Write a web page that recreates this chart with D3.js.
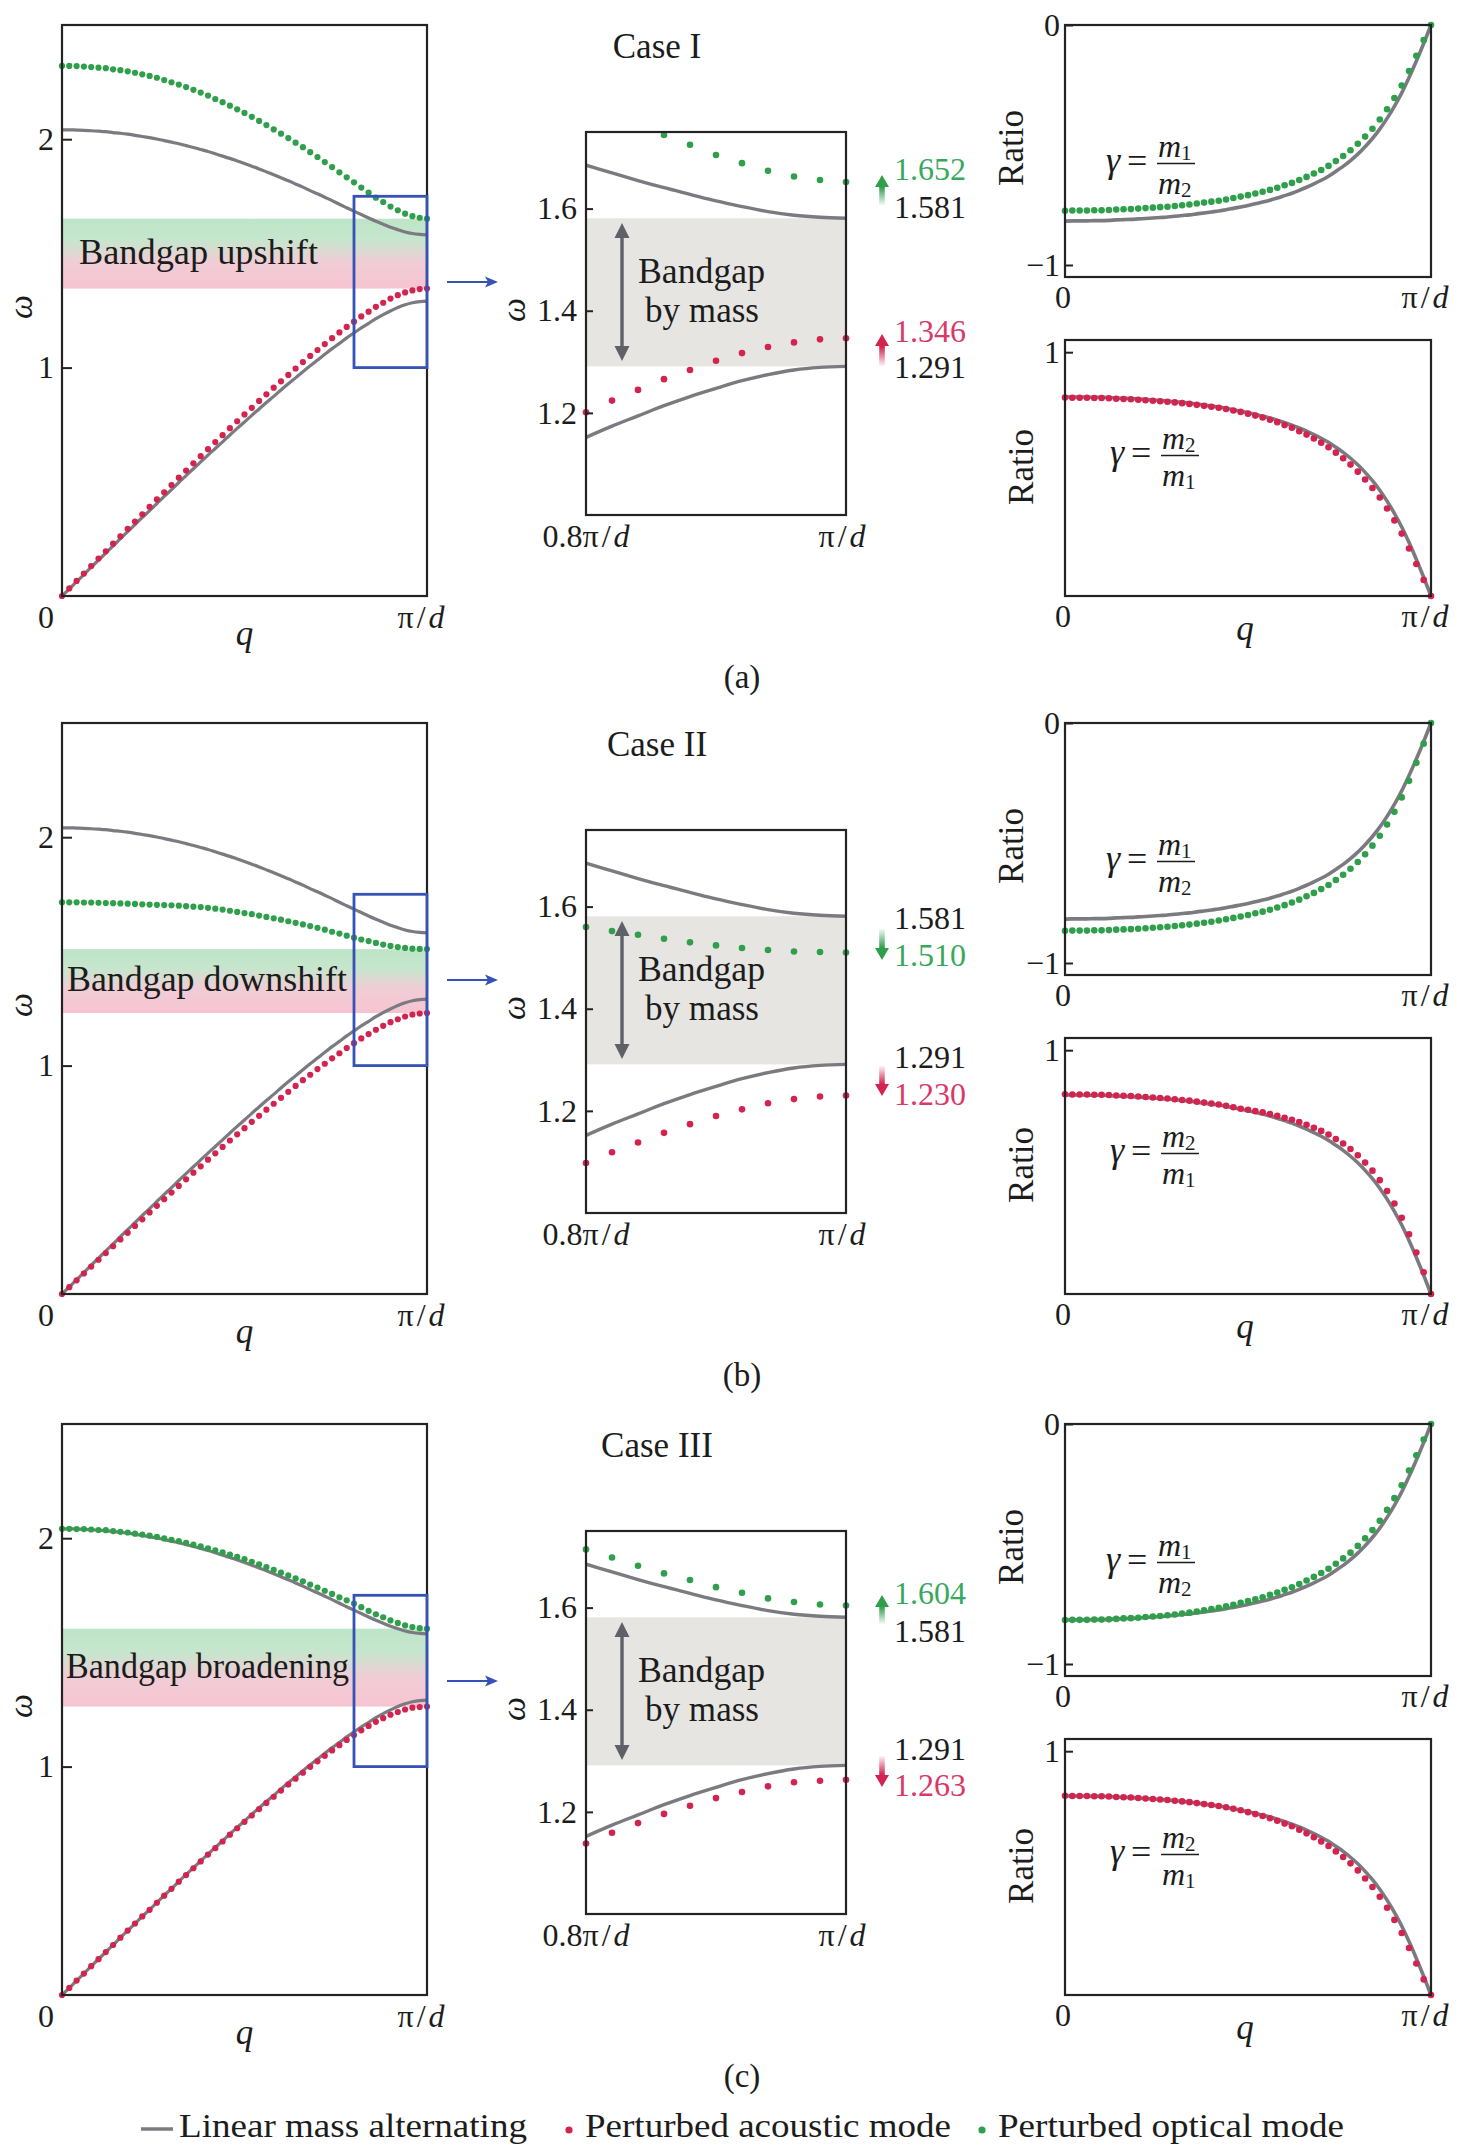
<!DOCTYPE html>
<html>
<head>
<meta charset="utf-8">
<script src="https://cdn.jsdelivr.net/npm/d3@7"></script>
<style>
  body { margin: 0; background: #fff; }
  svg text { font-family: "Liberation Serif", "Times New Roman", serif; fill: #1c1c1c; }
</style>
</head>
<body>
<svg id="fig" width="1462" height="2150"></svg>
<script>
// wave number, in units of pi/d
const qGrid = [0.00,0.02,0.04,0.06,0.08,0.10,0.12,0.14,0.16,0.18,
  0.20,0.22,0.24,0.26,0.28,0.30,0.32,0.34,0.36,0.38,
  0.40,0.42,0.44,0.46,0.48,0.50,0.52,0.54,0.56,0.58,
  0.60,0.62,0.64,0.66,0.68,0.70,0.72,0.74,0.76,0.78,
  0.80,0.82,0.84,0.86,0.88,0.90,0.92,0.94,0.96,0.98,1.00];

// linear mass alternating (grey curves), same in every case
const baseOptical = [2.041,2.041,2.040,2.039,2.037,2.035,2.033,2.029,2.026,2.022,
  2.017,2.012,2.007,2.001,1.994,1.987,1.980,1.972,1.964,1.955,
  1.946,1.936,1.926,1.916,1.905,1.894,1.882,1.870,1.857,1.844,
  1.831,1.818,1.804,1.790,1.775,1.761,1.746,1.731,1.715,1.700,
  1.685,1.670,1.655,1.641,1.628,1.615,1.604,1.594,1.587,1.583,1.581];
const baseAcoustic = [0.000,0.031,0.063,0.094,0.126,0.157,0.188,0.219,0.251,0.282,
  0.313,0.344,0.374,0.405,0.436,0.466,0.497,0.527,0.557,0.587,
  0.617,0.646,0.675,0.705,0.734,0.762,0.791,0.819,0.847,0.874,
  0.902,0.929,0.955,0.982,1.008,1.033,1.058,1.083,1.106,1.130,
  1.152,1.174,1.194,1.214,1.232,1.248,1.263,1.275,1.284,1.289,1.291];
const baseRatioOptical = [-0.817,-0.816,-0.816,-0.816,-0.815,-0.815,-0.814,-0.812,-0.811,-0.810,
  -0.808,-0.806,-0.804,-0.802,-0.800,-0.797,-0.794,-0.791,-0.787,-0.783,
  -0.779,-0.775,-0.770,-0.764,-0.758,-0.752,-0.745,-0.738,-0.730,-0.721,
  -0.711,-0.701,-0.689,-0.676,-0.662,-0.647,-0.630,-0.610,-0.589,-0.565,
  -0.538,-0.507,-0.473,-0.434,-0.389,-0.339,-0.283,-0.219,-0.150,-0.077,0];
const baseRatioAcoustic = [0.817,0.816,0.816,0.816,0.815,0.815,0.814,0.812,0.811,0.810,
  0.808,0.806,0.804,0.802,0.800,0.797,0.794,0.791,0.787,0.783,
  0.779,0.775,0.770,0.764,0.758,0.752,0.745,0.738,0.730,0.721,
  0.711,0.701,0.689,0.676,0.662,0.647,0.630,0.610,0.589,0.565,
  0.538,0.507,0.473,0.434,0.389,0.339,0.283,0.219,0.150,0.077,0];

// Case I
const case1Optical = [2.321,2.321,2.320,2.318,2.316,2.313,2.311,2.306,2.302,2.297,
  2.291,2.284,2.277,2.269,2.259,2.249,2.239,2.228,2.216,2.204,
  2.191,2.176,2.162,2.147,2.131,2.115,2.098,2.080,2.062,2.043,
  2.024,2.005,1.985,1.965,1.943,1.922,1.900,1.878,1.855,1.833,
  1.811,1.788,1.766,1.744,1.725,1.705,1.689,1.674,1.663,1.656,1.652];
const case1Acoustic = [0.000,0.033,0.066,0.098,0.131,0.164,0.196,0.229,0.261,0.294,
  0.326,0.358,0.390,0.423,0.454,0.486,0.518,0.549,0.581,0.612,
  0.643,0.674,0.704,0.735,0.765,0.795,0.824,0.854,0.883,0.912,
  0.940,0.968,0.996,1.024,1.051,1.077,1.103,1.129,1.154,1.178,
  1.201,1.224,1.245,1.266,1.284,1.302,1.317,1.329,1.338,1.344,1.346];
const case1RatioOptical = [-0.774,-0.773,-0.773,-0.773,-0.772,-0.772,-0.771,-0.769,-0.768,-0.767,
  -0.765,-0.763,-0.761,-0.759,-0.757,-0.754,-0.751,-0.748,-0.744,-0.740,
  -0.736,-0.732,-0.727,-0.721,-0.715,-0.709,-0.702,-0.695,-0.687,-0.678,
  -0.668,-0.658,-0.646,-0.633,-0.619,-0.604,-0.587,-0.567,-0.546,-0.522,
  -0.495,-0.465,-0.432,-0.394,-0.351,-0.304,-0.252,-0.192,-0.128,-0.063,0];
const case1RatioAcoustic = [0.814,0.813,0.813,0.813,0.812,0.812,0.811,0.809,0.808,0.807,
  0.805,0.803,0.801,0.799,0.797,0.794,0.791,0.788,0.784,0.780,
  0.776,0.772,0.767,0.761,0.755,0.748,0.740,0.732,0.723,0.713,
  0.701,0.690,0.676,0.662,0.646,0.629,0.610,0.588,0.565,0.539,
  0.510,0.478,0.443,0.404,0.359,0.310,0.256,0.195,0.131,0.066,0];

// Case II
const case2Optical = [1.715,1.715,1.715,1.714,1.714,1.713,1.712,1.711,1.710,1.709,
  1.708,1.706,1.705,1.704,1.703,1.702,1.700,1.698,1.696,1.694,
  1.691,1.687,1.683,1.678,1.673,1.668,1.663,1.657,1.651,1.645,
  1.639,1.632,1.625,1.618,1.611,1.603,1.595,1.586,1.578,1.569,
  1.560,1.552,1.545,1.537,1.530,1.524,1.519,1.515,1.512,1.511,1.510];
const case2Acoustic = [0.000,0.030,0.060,0.090,0.120,0.150,0.179,0.209,0.239,0.268,
  0.298,0.327,0.357,0.386,0.415,0.444,0.473,0.502,0.531,0.559,
  0.588,0.616,0.644,0.672,0.699,0.726,0.754,0.780,0.807,0.833,
  0.859,0.885,0.911,0.936,0.960,0.985,1.008,1.032,1.054,1.077,
  1.098,1.119,1.138,1.157,1.174,1.190,1.203,1.215,1.223,1.228,1.230];
const case2RatioOptical = [-0.866,-0.865,-0.865,-0.865,-0.864,-0.864,-0.863,-0.861,-0.860,-0.859,
  -0.857,-0.855,-0.853,-0.851,-0.849,-0.846,-0.843,-0.840,-0.836,-0.832,
  -0.828,-0.823,-0.818,-0.812,-0.806,-0.800,-0.793,-0.786,-0.778,-0.769,
  -0.759,-0.748,-0.736,-0.722,-0.708,-0.692,-0.675,-0.654,-0.632,-0.607,
  -0.579,-0.547,-0.511,-0.470,-0.423,-0.370,-0.310,-0.241,-0.166,-0.086,0];
const case2RatioAcoustic = [0.819,0.818,0.818,0.818,0.817,0.817,0.816,0.814,0.813,0.812,
  0.810,0.808,0.806,0.804,0.802,0.799,0.796,0.793,0.789,0.785,
  0.781,0.777,0.772,0.766,0.760,0.756,0.750,0.745,0.738,0.731,
  0.723,0.715,0.705,0.694,0.682,0.669,0.654,0.636,0.617,0.595,
  0.569,0.539,0.506,0.467,0.422,0.371,0.313,0.245,0.170,0.089,0];

// Case III
const case3Optical = [2.041,2.041,2.040,2.040,2.038,2.036,2.035,2.031,2.028,2.025,
  2.020,2.016,2.011,2.006,1.999,1.993,1.987,1.980,1.972,1.964,
  1.956,1.947,1.938,1.928,1.918,1.908,1.897,1.886,1.873,1.861,
  1.849,1.837,1.824,1.811,1.797,1.784,1.770,1.756,1.741,1.728,
  1.714,1.698,1.682,1.667,1.654,1.640,1.629,1.618,1.611,1.606,1.604];
const case3Acoustic = [0.000,0.031,0.063,0.094,0.126,0.157,0.188,0.219,0.251,0.282,
  0.313,0.344,0.373,0.404,0.435,0.465,0.496,0.525,0.555,0.585,
  0.615,0.643,0.672,0.702,0.730,0.758,0.786,0.814,0.841,0.868,
  0.895,0.922,0.947,0.973,0.999,1.023,1.047,1.071,1.094,1.117,
  1.138,1.159,1.178,1.196,1.212,1.227,1.239,1.250,1.258,1.261,1.263];
const case3RatioOptical = [-0.817,-0.816,-0.816,-0.816,-0.815,-0.815,-0.814,-0.812,-0.810,-0.809,
  -0.807,-0.804,-0.802,-0.800,-0.797,-0.794,-0.790,-0.786,-0.781,-0.776,
  -0.771,-0.766,-0.760,-0.753,-0.745,-0.738,-0.730,-0.722,-0.712,-0.702,
  -0.691,-0.680,-0.667,-0.652,-0.637,-0.621,-0.603,-0.582,-0.560,-0.536,
  -0.508,-0.476,-0.442,-0.403,-0.358,-0.309,-0.255,-0.194,-0.130,-0.065,0];
const case3RatioAcoustic = [0.817,0.816,0.816,0.816,0.815,0.815,0.814,0.812,0.811,0.810,
  0.808,0.806,0.804,0.802,0.800,0.797,0.794,0.791,0.787,0.783,
  0.779,0.775,0.770,0.764,0.758,0.750,0.742,0.734,0.725,0.715,
  0.703,0.692,0.678,0.663,0.647,0.630,0.611,0.589,0.566,0.540,
  0.511,0.478,0.443,0.403,0.358,0.308,0.254,0.193,0.129,0.064,0];

// band edges at q = pi/d
const baseEdges = [1.581, 1.291];
const opticalEdges = [1.652, 1.510, 1.604];
const acousticEdges = [1.346, 1.230, 1.263];

const caseTitles = ["Case I", "Case II", "Case III"];
const shiftLabels = ["Bandgap upshift", "Bandgap downshift", "Bandgap broadening"];
const panelLabels = ["(a)", "(b)", "(c)"];
const legendLabels = ["Linear mass alternating", "Perturbed acoustic mode", "Perturbed optical mode"];

const caseOptical = [case1Optical, case2Optical, case3Optical];
const caseAcoustic = [case1Acoustic, case2Acoustic, case3Acoustic];
const caseRatioOptical = [case1RatioOptical, case2RatioOptical, case3RatioOptical];
const caseRatioAcoustic = [case1RatioAcoustic, case2RatioAcoustic, case3RatioAcoustic];

// ---------- layout ----------
const L = { x0: 62, x1: 427, y0: 25, y1: 596 };
const M = { x0: 586, x1: 846, y0: 132, y1: 515 };
const RT = { x0: 1065, x1: 1431, y0: 25, y1: 277 };
const RB = { x0: 1065, x1: 1431, y0: 340, y1: 596 };
const rowOffsets = [0, 698, 1399];
const shiftTextPos = [{ x: 79, len: 239 }, { x: 67, len: 280 }, { x: 66, len: 283 }];

const C = {
  grey: "#7a7a80", green: "#2f9f4c", red: "#d3234f", box: "#232323",
  blue: "#3553b6", greenText: "#3aa85c", redText: "#d8386a",
  gap: "#e6e5e2", arrow: "#5e6168", text: "#1c1c1c"
};

// value annotations next to the zoomed panel (positions only)
const valueLayout = [
  { labels: [["o", 180], ["bo", 218], ["a", 342], ["ba", 378]],
    arrows: [{ col: "green", up: true, tip: 175, tail: 205 }, { col: "red", up: true, tip: 334, tail: 366 }] },
  { labels: [["bo", 231], ["o", 268], ["ba", 370], ["a", 407]],
    arrows: [{ col: "green", up: false, tip: 262, tail: 231 }, { col: "red", up: false, tip: 398, tail: 368 }] },
  { labels: [["o", 205], ["bo", 243], ["ba", 361], ["a", 397]],
    arrows: [{ col: "green", up: true, tip: 196, tail: 225 }, { col: "red", up: false, tip: 388, tail: 357 }] }
];

// ---------- scales ----------
const xL = d3.scaleLinear().domain([0, 1]).range([L.x0, L.x1]);
const yL = d3.scaleLinear().domain([0, 2.5]).range([L.y1, L.y0]);
const xM = d3.scaleLinear().domain([0.8, 1]).range([M.x0, M.x1]);
const yM = d3.scaleLinear().domain([1.0, 1.75]).range([M.y1, M.y0]);
const xR = d3.scaleLinear().domain([0, 1]).range([RT.x0, RT.x1]);
const yRT = d3.scaleLinear().domain([-1.05, 0]).range([RT.y1, RT.y0]);
const yRB = d3.scaleLinear().domain([0, 1.05]).range([RB.y1, RB.y0]);

const svg = d3.select("#fig");
const defs = svg.append("defs");

// bandgap shading, green on top fading into pink
const bandGrad = defs.append("linearGradient").attr("id", "bandGrad")
  .attr("x1", 0).attr("y1", 0).attr("x2", 0).attr("y2", 1);
[[0, "#bde5c7"], [0.3, "#c6e6cd"], [0.62, "#f0cdd6"], [1, "#f7c4d1"]]
  .forEach(([o, c]) => bandGrad.append("stop").attr("offset", o).attr("stop-color", c));

// fading arrows
[["green", C.green], ["red", C.red]].forEach(([name, col]) => {
  const up = defs.append("linearGradient").attr("id", "up-" + name)
    .attr("x1", 0).attr("y1", 0).attr("x2", 0).attr("y2", 1);
  up.append("stop").attr("offset", 0).attr("stop-color", col);
  up.append("stop").attr("offset", 0.4).attr("stop-color", col);
  up.append("stop").attr("offset", 1).attr("stop-color", col).attr("stop-opacity", 0.05);
  const dn = defs.append("linearGradient").attr("id", "down-" + name)
    .attr("x1", 0).attr("y1", 0).attr("x2", 0).attr("y2", 1);
  dn.append("stop").attr("offset", 0).attr("stop-color", col).attr("stop-opacity", 0.05);
  dn.append("stop").attr("offset", 0.6).attr("stop-color", col);
  dn.append("stop").attr("offset", 1).attr("stop-color", col);
});

defs.append("clipPath").attr("id", "midClip").append("rect")
  .attr("x", M.x0).attr("y", M.y0).attr("width", M.x1 - M.x0).attr("height", M.y1 - M.y0);

// ---------- helpers ----------
const pts = ys => qGrid.map((q, i) => [q, ys[i]]);

function greyLine(sel, data, xs, ys, width) {
  const line = d3.line().x(d => xs(d[0])).y(d => ys(d[1])).curve(d3.curveMonotoneX);
  return sel.append("path").attr("d", line(data))
    .attr("fill", "none").attr("stroke", C.grey).attr("stroke-width", width);
}

function dots(sel, data, xs, ys, color, r) {
  sel.append("g").selectAll("circle").data(data).join("circle")
    .attr("cx", d => xs(d[0])).attr("cy", d => ys(d[1])).attr("r", r).attr("fill", color);
}

function frame(sel, b) {
  sel.append("rect").attr("x", b.x0).attr("y", b.y0)
    .attr("width", b.x1 - b.x0).attr("height", b.y1 - b.y0)
    .attr("fill", "none").attr("stroke", C.box).attr("stroke-width", 2.2);
}

function yAxis(sel, scale, x, values, fmt, inner, pad) {
  const g = sel.append("g").attr("transform", `translate(${x},0)`);
  g.call(d3.axisLeft(scale).tickValues(values).tickFormat(fmt)
    .tickSizeInner(-inner).tickSizeOuter(0).tickPadding(pad));
  g.select(".domain").remove();
  g.selectAll(".tick line").attr("stroke", C.box).attr("stroke-width", 2);
  g.selectAll(".tick text").attr("font-family", "Liberation Serif").attr("font-size", 32).attr("fill", C.text);
}

function label(sel, x, y, txt, opts = {}) {
  const t = sel.append("text").attr("x", x).attr("y", y)
    .attr("font-size", opts.size || 32)
    .attr("text-anchor", opts.anchor || "middle").text(txt);
  if (opts.italic) t.attr("font-style", "italic");
  if (opts.fill) t.style("fill", opts.fill);
  if (opts.len) t.attr("textLength", opts.len).attr("lengthAdjust", "spacingAndGlyphs");
  return t;
}

function rotLabel(sel, x, y, txt, size, italic) {
  const t = sel.append("text").attr("transform", `translate(${x},${y}) rotate(-90)`)
    .attr("text-anchor", "middle").attr("font-size", size).text(txt);
  if (italic) t.attr("font-style", "italic");
}

function piLabel(sel, x, y, prefix) {
  const t = sel.append("text").attr("x", x).attr("y", y)
    .attr("text-anchor", "middle").attr("font-size", 32);
  if (prefix) t.append("tspan").text(prefix);
  t.append("tspan").text("π");
  t.append("tspan").attr("dx", 3).text("/");
  t.append("tspan").attr("dx", 3).attr("font-style", "italic").text("d");
}

// gamma = m_a / m_b, a stacked fraction
function gammaLabel(sel, x, yLine, top, bottom) {
  label(sel, x, yLine + 8, "γ", { size: 36, anchor: "start", italic: true });
  label(sel, x + 21, yLine + 9, "=", { size: 36, anchor: "start" });
  const fx = x + 51;
  sel.append("line").attr("x1", fx).attr("x2", fx + 38).attr("y1", yLine).attr("y2", yLine)
    .attr("stroke", C.text).attr("stroke-width", 1.6);
  [[top, yLine - 7], [bottom, yLine + 30]].forEach(([sub, y]) => {
    const t = sel.append("text").attr("x", fx + 1).attr("y", y).attr("font-size", 32);
    t.append("tspan").attr("font-style", "italic").text("m");
    t.append("tspan").attr("font-size", 21).attr("dy", 3).text(sub);
  });
}

function valueArrow(sel, x, a) {
  const dir = a.up ? 1 : -1;
  const hl = 12, hw = 7, sw = 2.8;
  const hb = a.tip + dir * hl;
  const p = d3.path();
  p.moveTo(x, a.tip); p.lineTo(x + hw, hb); p.lineTo(x + sw, hb); p.lineTo(x + sw, a.tail);
  p.lineTo(x - sw, a.tail); p.lineTo(x - sw, hb); p.lineTo(x - hw, hb); p.closePath();
  sel.append("path").attr("d", p.toString())
    .attr("fill", `url(#${a.up ? "up" : "down"}-${a.col})`);
}

// ---------- one row per case ----------
function drawRow(k) {
  const g = svg.append("g").attr("transform", `translate(0,${rowOffsets[k]})`);
  const opt = pts(caseOptical[k]), ac = pts(caseAcoustic[k]);

  // left: full Brillouin zone
  const left = g.append("g");
  const bTop = yL(opticalEdges[k]), bBot = yL(acousticEdges[k]);
  left.append("rect").attr("x", L.x0).attr("y", bTop)
    .attr("width", L.x1 - L.x0).attr("height", bBot - bTop).attr("fill", "url(#bandGrad)");
  label(left, shiftTextPos[k].x, (bTop + bBot) / 2 + 10, shiftLabels[k],
    { size: 35, anchor: "start", len: shiftTextPos[k].len });
  greyLine(left, pts(baseOptical), xL, yL, 3.2);
  greyLine(left, pts(baseAcoustic), xL, yL, 3.2);
  dots(left, opt, xL, yL, C.green, 3.1);
  dots(left, ac, xL, yL, C.red, 3.1);
  frame(left, L);
  yAxis(left, yL, L.x0, [1, 2], d3.format("d"), 10, 8);
  left.append("rect").attr("x", xL(0.8)).attr("y", yL(1.75))
    .attr("width", xL(1) - xL(0.8)).attr("height", yL(1.0) - yL(1.75))
    .attr("fill", "none").attr("stroke", C.blue).attr("stroke-width", 2.8);
  label(left, L.x0 - 16, 628, "0");
  piLabel(left, L.x1 - 6, 628);
  label(left, (L.x0 + L.x1) / 2, 645, "q", { size: 35, italic: true });
  rotLabel(left, 32, 307, "ω", 34, true);

  // blue zoom arrow
  g.append("line").attr("x1", 447).attr("x2", 488).attr("y1", 282).attr("y2", 282)
    .attr("stroke", C.blue).attr("stroke-width", 2.2);
  g.append("path").attr("d", "M498,282 L485,276.5 L488,282 L485,287.5 Z").attr("fill", C.blue);

  // middle: zoom near pi/d
  const mid = g.append("g");
  mid.append("rect").attr("x", M.x0).attr("y", yM(baseEdges[0]))
    .attr("width", M.x1 - M.x0).attr("height", yM(baseEdges[1]) - yM(baseEdges[0]))
    .attr("fill", C.gap);
  const clipG = mid.append("g").attr("clip-path", "url(#midClip)");
  greyLine(clipG, pts(baseOptical).slice(40), xM, yM, 3.4);
  greyLine(clipG, pts(baseAcoustic).slice(40), xM, yM, 3.4);
  const inMid = d => d[0] >= 0.8 && d[1] >= 1.0 && d[1] <= 1.75;
  dots(mid, opt.filter(inMid), xM, yM, C.green, 3.3);
  dots(mid, ac.filter(inMid), xM, yM, C.red, 3.3);
  frame(mid, M);
  yAxis(mid, yM, M.x0, [1.2, 1.4, 1.6], d3.format(".1f"), 7, 9);
  piLabel(mid, M.x0, 547, "0.8");
  piLabel(mid, M.x1 - 4, 547);
  rotLabel(mid, 525, 310, "ω", 34, true);
  label(mid, 657, 58, caseTitles[k], { size: 35 });

  // double arrow: bandgap by mass
  const ax = 622, a1 = 223, a2 = 361;
  mid.append("line").attr("x1", ax).attr("x2", ax).attr("y1", a1 + 10).attr("y2", a2 - 10)
    .attr("stroke", C.arrow).attr("stroke-width", 3.4);
  mid.append("path").attr("d", `M${ax},${a1} L${ax + 7.5},${a1 + 15} L${ax - 7.5},${a1 + 15} Z`).attr("fill", C.arrow);
  mid.append("path").attr("d", `M${ax},${a2} L${ax + 7.5},${a2 - 15} L${ax - 7.5},${a2 - 15} Z`).attr("fill", C.arrow);
  label(mid, 638, 283, "Bandgap", { size: 35, anchor: "start", len: 127 });
  label(mid, 645, 322, "by mass", { size: 35, anchor: "start", len: 114 });

  // edge values
  const vals = { o: opticalEdges[k], a: acousticEdges[k], bo: baseEdges[0], ba: baseEdges[1] };
  const cols = { o: C.greenText, a: C.redText, bo: C.text, ba: C.text };
  valueLayout[k].labels.forEach(([key, y]) => {
    label(mid, 894, y, d3.format(".3f")(vals[key]), { size: 32, anchor: "start", fill: cols[key] });
  });
  valueLayout[k].arrows.forEach(a => valueArrow(mid, 882, a));

  // right top: optical amplitude ratio
  const rt = g.append("g");
  greyLine(rt, pts(baseRatioOptical), xR, yRT, 3.6);
  dots(rt, pts(caseRatioOptical[k]), xR, yRT, C.green, 3.3);
  frame(rt, RT);
  yAxis(rt, yRT, RT.x0, [-1, 0], d3.format("d"), 8, 5);
  label(rt, RT.x0 - 2, 308, "0");
  piLabel(rt, RT.x1 - 6, 308);
  rotLabel(rt, 1023, 148, "Ratio", 35, false);
  gammaLabel(rt, 1106, RT.y0 + 138.5, "1", "2");

  // right bottom: acoustic amplitude ratio
  const rb = g.append("g");
  greyLine(rb, pts(baseRatioAcoustic), xR, yRB, 3.6);
  dots(rb, pts(caseRatioAcoustic[k]), xR, yRB, C.red, 3.3);
  frame(rb, RB);
  yAxis(rb, yRB, RB.x0, [1], d3.format("d"), 8, 5);
  label(rb, RB.x0 - 2, 627, "0");
  piLabel(rb, RB.x1 - 6, 627);
  label(rb, 1245, 640, "q", { size: 35, italic: true });
  rotLabel(rb, 1033, 467, "Ratio", 35, false);
  gammaLabel(rb, 1110, RB.y0 + 115.5, "2", "1");

  label(g, 742, 688, panelLabels[k], { size: 33 });
}

[0, 1, 2].forEach(drawRow);

// ---------- legend ----------
const lg = svg.append("g");
const ly = 2137;
lg.append("line").attr("x1", 141).attr("x2", 173).attr("y1", ly - 8).attr("y2", ly - 8)
  .attr("stroke", C.grey).attr("stroke-width", 3.5);
label(lg, 179, ly, legendLabels[0], { size: 34, anchor: "start", len: 348 });
lg.append("circle").attr("cx", 569).attr("cy", ly - 7).attr("r", 3.6).attr("fill", C.red);
label(lg, 585, ly, legendLabels[1], { size: 34, anchor: "start", len: 366 });
lg.append("circle").attr("cx", 982).attr("cy", ly - 7).attr("r", 3.6).attr("fill", C.green);
label(lg, 998, ly, legendLabels[2], { size: 34, anchor: "start", len: 346 });
</script>
</body>
</html>
